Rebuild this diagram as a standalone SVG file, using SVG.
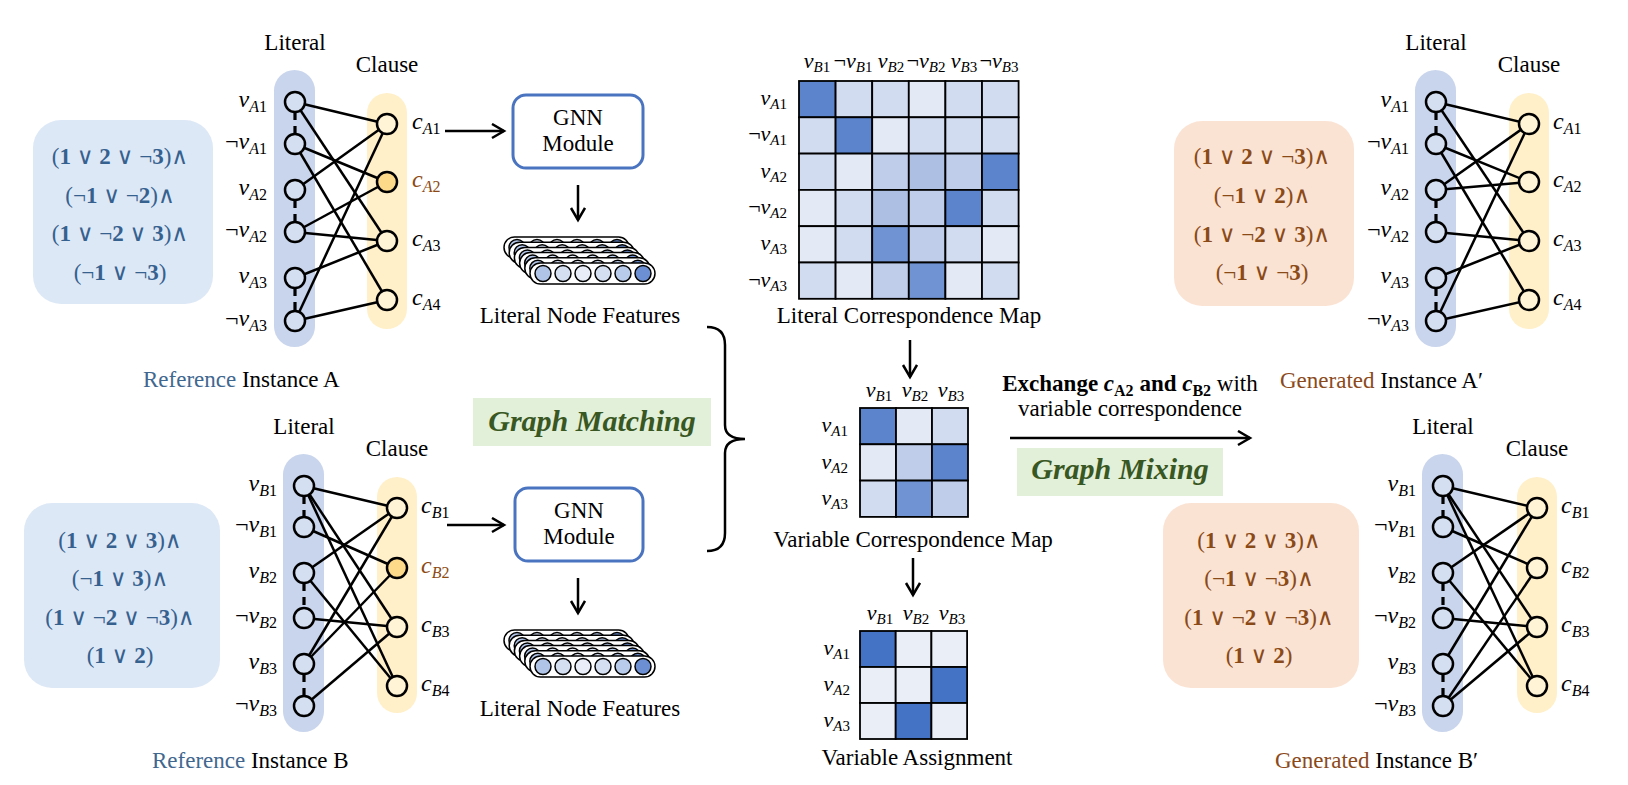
<svg xmlns="http://www.w3.org/2000/svg" xmlns:xlink="http://www.w3.org/1999/xlink" width="1628" height="785" viewBox="0 0 1628 785" font-family="'Liberation Serif', 'DejaVu Serif', serif">
<style>
text, tspan { font-family: 'Liberation Serif', 'DejaVu Serif', serif; }
text { fill: #000; }
.cap { font-size: 23px; }
.ml { font-size: 24px; }
.mm { font-size: 22px; }
.sub { font-size: 16px; }
.subm { font-size: 15px; }
.it { font-style: italic; }
.b { font-weight: bold; }
.edge { stroke: #000; stroke-width: 2.5; fill: none; }
.dash { stroke: #000; stroke-width: 3.2; stroke-dasharray: 8 6; fill: none; }
.lit { fill: #d5dff2; stroke: #000; stroke-width: 2.5; }
.cl { fill: #fff5d6; stroke: #000; stroke-width: 2.5; }
.clh { fill: #fdd98a; stroke: #000; stroke-width: 2.5; }
.lband { fill: #c9d5ec; }
.cband { fill: #fff0c9; }
.fbox { fill: #dde8f6; }
.pbox { fill: #fbe3d4; }
.ftxt { font-size: 23px; fill: #36618f; }
.ptxt { font-size: 23px; fill: #8a4a17; }
.ref { fill: #41678f; }
.gen { fill: #8b4a1c; }
.brown { fill: #8c4a12; }
.gnn { fill: #fff; stroke: #4a74c0; stroke-width: 3; }
.green { fill: #e2efd9; }
.gtxt { font-size: 30px; font-weight: bold; font-style: italic; fill: #385723; }
.arrow { stroke: #000; stroke-width: 2.5; fill: none; marker-end: url(#ah); }
.cell { stroke: #000; stroke-width: 1.8; }
.d1 { fill: #5b84cc; } .d2 { fill: #6f93d3; } .m1 { fill: #adc0e4; } .m2 { fill: #bfcdea; }
.l1 { fill: #d2dcf0; } .l2 { fill: #e3e9f5; } .vd { fill: #4472c4; } .vl { fill: #e9eef7; }
.pill { fill: #fff; stroke: #000; stroke-width: 1.5; }
.fc { stroke: #000; stroke-width: 1.5; }
</style>
<defs>
<marker id="ah" markerUnits="userSpaceOnUse" markerWidth="16" markerHeight="18" refX="13" refY="8" orient="auto">
<path d="M1,1 L13,8 L1,15" fill="none" stroke="#000" stroke-width="2.5"/>
</marker>
<g id="layer">
<rect class="pill" x="0" y="0" width="125" height="21" rx="10.5"/>
<circle class="fc" cx="13" cy="10.5" r="8" fill="#b0c4e8"/>
<circle class="fc" cx="33" cy="10.5" r="8" fill="#d5dff2"/>
<circle class="fc" cx="53" cy="10.5" r="8" fill="#e8edf8"/>
<circle class="fc" cx="73" cy="10.5" r="8" fill="#d5dff2"/>
<circle class="fc" cx="93" cy="10.5" r="8" fill="#b8cbea"/>
<circle class="fc" cx="113" cy="10.5" r="8" fill="#6b8fd2"/>
</g>
<g id="stack">
<use xlink:href="#layer" href="#layer" x="-26" y="-26"/>
<use xlink:href="#layer" href="#layer" x="-20.8" y="-20.8"/>
<use xlink:href="#layer" href="#layer" x="-15.6" y="-15.6"/>
<use xlink:href="#layer" href="#layer" x="-10.4" y="-10.4"/>
<use xlink:href="#layer" href="#layer" x="-5.2" y="-5.2"/>
<use xlink:href="#layer" href="#layer" x="0" y="0"/>
</g>
</defs>
<rect width="1628" height="785" fill="#fff"/>

<!-- ===== Reference Instance A ===== -->
<g id="formulaA">
<rect class="fbox" x="33" y="120" width="180" height="184" rx="28"/>
<text class="ftxt" x="120" y="164" text-anchor="middle">(<tspan class="b">1</tspan> ∨ <tspan class="b">2</tspan> ∨ ¬<tspan class="b">3</tspan>)∧</text>
<text class="ftxt" x="120" y="203" text-anchor="middle">(¬<tspan class="b">1</tspan> ∨ ¬<tspan class="b">2</tspan>)∧</text>
<text class="ftxt" x="120" y="241" text-anchor="middle">(<tspan class="b">1</tspan> ∨ ¬<tspan class="b">2</tspan> ∨ <tspan class="b">3</tspan>)∧</text>
<text class="ftxt" x="120" y="280" text-anchor="middle">(¬<tspan class="b">1</tspan> ∨ ¬<tspan class="b">3</tspan>)</text>
</g>
<g id="graphA">
<rect class="lband" x="274" y="70" width="41" height="277" rx="20.5"/>
<rect class="cband" x="367" y="93" width="40" height="236" rx="20"/>
<text class="cap" x="295" y="50" text-anchor="middle">Literal</text>
<text class="cap" x="387" y="72" text-anchor="middle">Clause</text>
<g id="edgesA">
<line class="edge" x1="295" y1="102" x2="387" y2="124"/>
<line class="edge" x1="295" y1="190" x2="387" y2="124"/>
<line class="edge" x1="295" y1="321" x2="387" y2="124"/>
<line class="edge" x1="295" y1="144" x2="387" y2="182"/>
<line class="edge" x1="295" y1="232" x2="387" y2="182"/>
<line class="edge" x1="295" y1="102" x2="387" y2="241"/>
<line class="edge" x1="295" y1="232" x2="387" y2="241"/>
<line class="edge" x1="295" y1="278" x2="387" y2="241"/>
<line class="edge" x1="295" y1="144" x2="387" y2="300"/>
<line class="edge" x1="295" y1="321" x2="387" y2="300"/>
<line class="dash" x1="295" y1="112" x2="295" y2="134"/>
<line class="dash" x1="295" y1="200" x2="295" y2="222"/>
<line class="dash" x1="295" y1="288" x2="295" y2="311"/>
</g>
<circle class="lit" cx="295" cy="102" r="10"/>
<circle class="lit" cx="295" cy="144" r="10"/>
<circle class="lit" cx="295" cy="190" r="10"/>
<circle class="lit" cx="295" cy="232" r="10"/>
<circle class="lit" cx="295" cy="278" r="10"/>
<circle class="lit" cx="295" cy="321" r="10"/>
<circle class="cl" cx="387" cy="124" r="10"/>
<circle class="clh" cx="387" cy="182" r="10"/>
<circle class="cl" cx="387" cy="241" r="10"/>
<circle class="cl" cx="387" cy="300" r="10"/>
<text class="ml" x="267" y="107" text-anchor="end"><tspan class="it">v</tspan><tspan class="sub" dy="5"><tspan class="it">A</tspan>1</tspan></text>
<text class="ml" x="267" y="149" text-anchor="end">¬<tspan class="it">v</tspan><tspan class="sub" dy="5"><tspan class="it">A</tspan>1</tspan></text>
<text class="ml" x="267" y="195" text-anchor="end"><tspan class="it">v</tspan><tspan class="sub" dy="5"><tspan class="it">A</tspan>2</tspan></text>
<text class="ml" x="267" y="237" text-anchor="end">¬<tspan class="it">v</tspan><tspan class="sub" dy="5"><tspan class="it">A</tspan>2</tspan></text>
<text class="ml" x="267" y="283" text-anchor="end"><tspan class="it">v</tspan><tspan class="sub" dy="5"><tspan class="it">A</tspan>3</tspan></text>
<text class="ml" x="267" y="326" text-anchor="end">¬<tspan class="it">v</tspan><tspan class="sub" dy="5"><tspan class="it">A</tspan>3</tspan></text>
<text class="ml" x="412" y="129"><tspan class="it">c</tspan><tspan class="sub" dy="5"><tspan class="it">A</tspan>1</tspan></text>
<text class="ml brown" x="412" y="187"><tspan class="it brown">c</tspan><tspan class="sub brown" dy="5"><tspan class="it brown">A</tspan>2</tspan></text>
<text class="ml" x="412" y="246"><tspan class="it">c</tspan><tspan class="sub" dy="5"><tspan class="it">A</tspan>3</tspan></text>
<text class="ml" x="412" y="305"><tspan class="it">c</tspan><tspan class="sub" dy="5"><tspan class="it">A</tspan>4</tspan></text>
<text class="cap" x="143" y="387"><tspan class="ref">Reference</tspan> Instance A</text>
</g>

<!-- ===== Reference Instance B ===== -->
<g id="formulaB">
<rect class="fbox" x="24" y="503" width="196" height="185" rx="28"/>
<text class="ftxt" x="120" y="548" text-anchor="middle">(<tspan class="b">1</tspan> ∨ <tspan class="b">2</tspan> ∨ <tspan class="b">3</tspan>)∧</text>
<text class="ftxt" x="120" y="586" text-anchor="middle">(¬<tspan class="b">1</tspan> ∨ <tspan class="b">3</tspan>)∧</text>
<text class="ftxt" x="120" y="625" text-anchor="middle">(<tspan class="b">1</tspan> ∨ ¬<tspan class="b">2</tspan> ∨ ¬<tspan class="b">3</tspan>)∧</text>
<text class="ftxt" x="120" y="663" text-anchor="middle">(<tspan class="b">1</tspan> ∨ <tspan class="b">2</tspan>)</text>
</g>
<g id="graphB">
<rect class="lband" x="283" y="454" width="41" height="278" rx="20.5"/>
<rect class="cband" x="377" y="477" width="40" height="236" rx="20"/>
<text class="cap" x="304" y="434" text-anchor="middle">Literal</text>
<text class="cap" x="397" y="456" text-anchor="middle">Clause</text>
<g id="edgesB">
<line class="edge" x1="304" y1="486" x2="397" y2="508"/>
<line class="edge" x1="304" y1="573" x2="397" y2="508"/>
<line class="edge" x1="304" y1="664" x2="397" y2="508"/>
<line class="edge" x1="304" y1="527" x2="397" y2="568"/>
<line class="edge" x1="304" y1="664" x2="397" y2="568"/>
<line class="edge" x1="304" y1="486" x2="397" y2="627"/>
<line class="edge" x1="304" y1="618" x2="397" y2="627"/>
<line class="edge" x1="304" y1="706" x2="397" y2="627"/>
<line class="edge" x1="304" y1="486" x2="397" y2="686"/>
<line class="edge" x1="304" y1="573" x2="397" y2="686"/>
<line class="dash" x1="304" y1="496" x2="304" y2="517"/>
<line class="dash" x1="304" y1="583" x2="304" y2="608"/>
<line class="dash" x1="304" y1="674" x2="304" y2="696"/>
</g>
<circle class="lit" cx="304" cy="486" r="10"/>
<circle class="lit" cx="304" cy="527" r="10"/>
<circle class="lit" cx="304" cy="573" r="10"/>
<circle class="lit" cx="304" cy="618" r="10"/>
<circle class="lit" cx="304" cy="664" r="10"/>
<circle class="lit" cx="304" cy="706" r="10"/>
<circle class="cl" cx="397" cy="508" r="10"/>
<circle class="clh" cx="397" cy="568" r="10"/>
<circle class="cl" cx="397" cy="627" r="10"/>
<circle class="cl" cx="397" cy="686" r="10"/>
<text class="ml" x="277" y="491" text-anchor="end"><tspan class="it">v</tspan><tspan class="sub" dy="5"><tspan class="it">B</tspan>1</tspan></text>
<text class="ml" x="277" y="532" text-anchor="end">¬<tspan class="it">v</tspan><tspan class="sub" dy="5"><tspan class="it">B</tspan>1</tspan></text>
<text class="ml" x="277" y="578" text-anchor="end"><tspan class="it">v</tspan><tspan class="sub" dy="5"><tspan class="it">B</tspan>2</tspan></text>
<text class="ml" x="277" y="623" text-anchor="end">¬<tspan class="it">v</tspan><tspan class="sub" dy="5"><tspan class="it">B</tspan>2</tspan></text>
<text class="ml" x="277" y="669" text-anchor="end"><tspan class="it">v</tspan><tspan class="sub" dy="5"><tspan class="it">B</tspan>3</tspan></text>
<text class="ml" x="277" y="711" text-anchor="end">¬<tspan class="it">v</tspan><tspan class="sub" dy="5"><tspan class="it">B</tspan>3</tspan></text>
<text class="ml" x="421" y="513"><tspan class="it">c</tspan><tspan class="sub" dy="5"><tspan class="it">B</tspan>1</tspan></text>
<text class="ml brown" x="421" y="573"><tspan class="it brown">c</tspan><tspan class="sub brown" dy="5"><tspan class="it brown">B</tspan>2</tspan></text>
<text class="ml" x="421" y="632"><tspan class="it">c</tspan><tspan class="sub" dy="5"><tspan class="it">B</tspan>3</tspan></text>
<text class="ml" x="421" y="691"><tspan class="it">c</tspan><tspan class="sub" dy="5"><tspan class="it">B</tspan>4</tspan></text>
<text class="cap" x="152" y="768"><tspan class="ref">Reference</tspan> Instance B</text>
</g>

<!-- ===== GNN modules ===== -->
<g id="gnnA">
<rect class="gnn" x="513" y="95" width="130" height="73" rx="13"/>
<text class="cap" x="578" y="125" text-anchor="middle">GNN</text>
<text class="cap" x="578" y="151" text-anchor="middle">Module</text>
</g>
<g id="featuresA">
<use xlink:href="#stack" href="#stack" x="530" y="263"/>
<text class="cap" x="580" y="323" text-anchor="middle">Literal Node Features</text>
</g>
<g id="gnnB">
<rect class="gnn" x="515" y="488" width="128" height="73" rx="13"/>
<text class="cap" x="579" y="518" text-anchor="middle">GNN</text>
<text class="cap" x="579" y="544" text-anchor="middle">Module</text>
</g>
<g id="featuresB">
<use xlink:href="#stack" href="#stack" x="530" y="656"/>
<text class="cap" x="580" y="716" text-anchor="middle">Literal Node Features</text>
</g>
<g id="graphMatching">
<rect class="green" x="473" y="398" width="238" height="48"/>
<text class="gtxt" x="592" y="431" text-anchor="middle">Graph Matching</text>
</g>

<!-- ===== Literal Correspondence Map ===== -->
<g id="literalMap">
<g>
<rect class="cell d1" x="799" y="81" width="36.6" height="36.3"/>
<rect class="cell l1" x="835.6" y="81" width="36.6" height="36.3"/>
<rect class="cell l1" x="872.2" y="81" width="36.6" height="36.3"/>
<rect class="cell l2" x="908.8" y="81" width="36.6" height="36.3"/>
<rect class="cell l1" x="945.4" y="81" width="36.6" height="36.3"/>
<rect class="cell l1" x="982" y="81" width="36.6" height="36.3"/>

<rect class="cell l1" x="799" y="117.3" width="36.6" height="36.3"/>
<rect class="cell d1" x="835.6" y="117.3" width="36.6" height="36.3"/>
<rect class="cell l2" x="872.2" y="117.3" width="36.6" height="36.3"/>
<rect class="cell l1" x="908.8" y="117.3" width="36.6" height="36.3"/>
<rect class="cell l1" x="945.4" y="117.3" width="36.6" height="36.3"/>
<rect class="cell l1" x="982" y="117.3" width="36.6" height="36.3"/>

<rect class="cell l1" x="799" y="153.6" width="36.6" height="36.3"/>
<rect class="cell l2" x="835.6" y="153.6" width="36.6" height="36.3"/>
<rect class="cell m2" x="872.2" y="153.6" width="36.6" height="36.3"/>
<rect class="cell m1" x="908.8" y="153.6" width="36.6" height="36.3"/>
<rect class="cell m2" x="945.4" y="153.6" width="36.6" height="36.3"/>
<rect class="cell d1" x="982" y="153.6" width="36.6" height="36.3"/>

<rect class="cell l2" x="799" y="189.9" width="36.6" height="36.3"/>
<rect class="cell l1" x="835.6" y="189.9" width="36.6" height="36.3"/>
<rect class="cell m1" x="872.2" y="189.9" width="36.6" height="36.3"/>
<rect class="cell m2" x="908.8" y="189.9" width="36.6" height="36.3"/>
<rect class="cell d1" x="945.4" y="189.9" width="36.6" height="36.3"/>
<rect class="cell l1" x="982" y="189.9" width="36.6" height="36.3"/>

<rect class="cell l2" x="799" y="226.2" width="36.6" height="36.3"/>
<rect class="cell l1" x="835.6" y="226.2" width="36.6" height="36.3"/>
<rect class="cell d2" x="872.2" y="226.2" width="36.6" height="36.3"/>
<rect class="cell m2" x="908.8" y="226.2" width="36.6" height="36.3"/>
<rect class="cell l1" x="945.4" y="226.2" width="36.6" height="36.3"/>
<rect class="cell l2" x="982" y="226.2" width="36.6" height="36.3"/>

<rect class="cell l1" x="799" y="262.5" width="36.6" height="36.3"/>
<rect class="cell l2" x="835.6" y="262.5" width="36.6" height="36.3"/>
<rect class="cell m2" x="872.2" y="262.5" width="36.6" height="36.3"/>
<rect class="cell d2" x="908.8" y="262.5" width="36.6" height="36.3"/>
<rect class="cell l2" x="945.4" y="262.5" width="36.6" height="36.3"/>
<rect class="cell l1" x="982" y="262.5" width="36.6" height="36.3"/>
</g>
<text class="mm" x="817" y="68" text-anchor="middle"><tspan class="it">v</tspan><tspan class="subm" dy="4"><tspan class="it">B</tspan>1</tspan></text>
<text class="mm" x="853" y="68" text-anchor="middle">¬<tspan class="it">v</tspan><tspan class="subm" dy="4"><tspan class="it">B</tspan>1</tspan></text>
<text class="mm" x="891" y="68" text-anchor="middle"><tspan class="it">v</tspan><tspan class="subm" dy="4"><tspan class="it">B</tspan>2</tspan></text>
<text class="mm" x="926" y="68" text-anchor="middle">¬<tspan class="it">v</tspan><tspan class="subm" dy="4"><tspan class="it">B</tspan>2</tspan></text>
<text class="mm" x="964" y="68" text-anchor="middle"><tspan class="it">v</tspan><tspan class="subm" dy="4"><tspan class="it">B</tspan>3</tspan></text>
<text class="mm" x="999" y="68" text-anchor="middle">¬<tspan class="it">v</tspan><tspan class="subm" dy="4"><tspan class="it">B</tspan>3</tspan></text>
<text class="mm" x="787" y="105" text-anchor="end"><tspan class="it">v</tspan><tspan class="subm" dy="4"><tspan class="it">A</tspan>1</tspan></text>
<text class="mm" x="787" y="141" text-anchor="end">¬<tspan class="it">v</tspan><tspan class="subm" dy="4"><tspan class="it">A</tspan>1</tspan></text>
<text class="mm" x="787" y="178" text-anchor="end"><tspan class="it">v</tspan><tspan class="subm" dy="4"><tspan class="it">A</tspan>2</tspan></text>
<text class="mm" x="787" y="214" text-anchor="end">¬<tspan class="it">v</tspan><tspan class="subm" dy="4"><tspan class="it">A</tspan>2</tspan></text>
<text class="mm" x="787" y="250" text-anchor="end"><tspan class="it">v</tspan><tspan class="subm" dy="4"><tspan class="it">A</tspan>3</tspan></text>
<text class="mm" x="787" y="287" text-anchor="end">¬<tspan class="it">v</tspan><tspan class="subm" dy="4"><tspan class="it">A</tspan>3</tspan></text>
<text class="cap" x="909" y="323" text-anchor="middle">Literal Correspondence Map</text>
</g>

<!-- ===== Variable Correspondence Map ===== -->
<g id="variableMap">
<rect class="cell d1" x="860" y="408" width="36" height="36.3"/>
<rect class="cell l2" x="896" y="408" width="36" height="36.3"/>
<rect class="cell l1" x="932" y="408" width="36" height="36.3"/>
<rect class="cell l2" x="860" y="444.3" width="36" height="36.3"/>
<rect class="cell m2" x="896" y="444.3" width="36" height="36.3"/>
<rect class="cell d1" x="932" y="444.3" width="36" height="36.3"/>
<rect class="cell l1" x="860" y="480.6" width="36" height="36.3"/>
<rect class="cell d2" x="896" y="480.6" width="36" height="36.3"/>
<rect class="cell m2" x="932" y="480.6" width="36" height="36.3"/>
<text class="mm" x="879" y="397" text-anchor="middle"><tspan class="it">v</tspan><tspan class="subm" dy="4"><tspan class="it">B</tspan>1</tspan></text>
<text class="mm" x="915" y="397" text-anchor="middle"><tspan class="it">v</tspan><tspan class="subm" dy="4"><tspan class="it">B</tspan>2</tspan></text>
<text class="mm" x="951" y="397" text-anchor="middle"><tspan class="it">v</tspan><tspan class="subm" dy="4"><tspan class="it">B</tspan>3</tspan></text>
<text class="mm" x="848" y="432" text-anchor="end"><tspan class="it">v</tspan><tspan class="subm" dy="4"><tspan class="it">A</tspan>1</tspan></text>
<text class="mm" x="848" y="469" text-anchor="end"><tspan class="it">v</tspan><tspan class="subm" dy="4"><tspan class="it">A</tspan>2</tspan></text>
<text class="mm" x="848" y="505" text-anchor="end"><tspan class="it">v</tspan><tspan class="subm" dy="4"><tspan class="it">A</tspan>3</tspan></text>
<text class="cap" x="913" y="547" text-anchor="middle">Variable Correspondence Map</text>
</g>

<!-- ===== Variable Assignment ===== -->
<g id="variableAssignment">
<rect class="cell vd" x="860" y="631" width="35.7" height="36"/>
<rect class="cell vl" x="895.7" y="631" width="35.7" height="36"/>
<rect class="cell vl" x="931.4" y="631" width="35.7" height="36"/>
<rect class="cell vl" x="860" y="667" width="35.7" height="36"/>
<rect class="cell vl" x="895.7" y="667" width="35.7" height="36"/>
<rect class="cell vd" x="931.4" y="667" width="35.7" height="36"/>
<rect class="cell vl" x="860" y="703" width="35.7" height="36"/>
<rect class="cell vd" x="895.7" y="703" width="35.7" height="36"/>
<rect class="cell vl" x="931.4" y="703" width="35.7" height="36"/>
<text class="mm" x="880" y="620" text-anchor="middle"><tspan class="it">v</tspan><tspan class="subm" dy="4"><tspan class="it">B</tspan>1</tspan></text>
<text class="mm" x="916" y="620" text-anchor="middle"><tspan class="it">v</tspan><tspan class="subm" dy="4"><tspan class="it">B</tspan>2</tspan></text>
<text class="mm" x="952" y="620" text-anchor="middle"><tspan class="it">v</tspan><tspan class="subm" dy="4"><tspan class="it">B</tspan>3</tspan></text>
<text class="mm" x="850" y="655" text-anchor="end"><tspan class="it">v</tspan><tspan class="subm" dy="4"><tspan class="it">A</tspan>1</tspan></text>
<text class="mm" x="850" y="691" text-anchor="end"><tspan class="it">v</tspan><tspan class="subm" dy="4"><tspan class="it">A</tspan>2</tspan></text>
<text class="mm" x="850" y="727" text-anchor="end"><tspan class="it">v</tspan><tspan class="subm" dy="4"><tspan class="it">A</tspan>3</tspan></text>
<text class="cap" x="917" y="765" text-anchor="middle">Variable Assignment</text>
</g>

<!-- ===== Exchange / Graph Mixing ===== -->
<g id="exchangeLabel">
<text class="cap" x="1130" y="391" text-anchor="middle"><tspan class="b">Exchange </tspan><tspan class="b it">c</tspan><tspan class="b sub" dy="5">A2</tspan><tspan class="b" dy="-5"> and </tspan><tspan class="b it">c</tspan><tspan class="b sub" dy="5">B2</tspan><tspan dy="-5"> with</tspan></text>
<text class="cap" x="1130" y="416" text-anchor="middle">variable correspondence</text>
</g>
<g id="graphMixing">
<rect class="green" x="1017" y="448" width="206" height="48"/>
<text class="gtxt" x="1120" y="479" text-anchor="middle">Graph Mixing</text>
</g>

<!-- ===== Generated Instance A' ===== -->
<g id="formulaA2">
<rect class="pbox" x="1174" y="121" width="180" height="185" rx="28"/>
<text class="ptxt" x="1262" y="164" text-anchor="middle">(<tspan class="b">1</tspan> ∨ <tspan class="b">2</tspan> ∨ ¬<tspan class="b">3</tspan>)∧</text>
<text class="ptxt" x="1262" y="203" text-anchor="middle">(¬<tspan class="b">1</tspan> ∨ <tspan class="b">2</tspan>)∧</text>
<text class="ptxt" x="1262" y="242" text-anchor="middle">(<tspan class="b">1</tspan> ∨ ¬<tspan class="b">2</tspan> ∨ <tspan class="b">3</tspan>)∧</text>
<text class="ptxt" x="1262" y="280" text-anchor="middle">(¬<tspan class="b">1</tspan> ∨ ¬<tspan class="b">3</tspan>)</text>
</g>
<g id="graphA2">
<rect class="lband" x="1415" y="70" width="41" height="277" rx="20.5"/>
<rect class="cband" x="1509" y="93" width="40" height="236" rx="20"/>
<text class="cap" x="1436" y="50" text-anchor="middle">Literal</text>
<text class="cap" x="1529" y="72" text-anchor="middle">Clause</text>
<g id="edgesA2">
<line class="edge" x1="1436" y1="102" x2="1529" y2="124"/>
<line class="edge" x1="1436" y1="190" x2="1529" y2="124"/>
<line class="edge" x1="1436" y1="321" x2="1529" y2="124"/>
<line class="edge" x1="1436" y1="144" x2="1529" y2="182"/>
<line class="edge" x1="1436" y1="190" x2="1529" y2="182"/>
<line class="edge" x1="1436" y1="102" x2="1529" y2="241"/>
<line class="edge" x1="1436" y1="232" x2="1529" y2="241"/>
<line class="edge" x1="1436" y1="278" x2="1529" y2="241"/>
<line class="edge" x1="1436" y1="144" x2="1529" y2="300"/>
<line class="edge" x1="1436" y1="321" x2="1529" y2="300"/>
<line class="dash" x1="1436" y1="112" x2="1436" y2="134"/>
<line class="dash" x1="1436" y1="200" x2="1436" y2="222"/>
<line class="dash" x1="1436" y1="288" x2="1436" y2="311"/>
</g>
<circle class="lit" cx="1436" cy="102" r="10"/>
<circle class="lit" cx="1436" cy="144" r="10"/>
<circle class="lit" cx="1436" cy="190" r="10"/>
<circle class="lit" cx="1436" cy="232" r="10"/>
<circle class="lit" cx="1436" cy="278" r="10"/>
<circle class="lit" cx="1436" cy="321" r="10"/>
<circle class="cl" cx="1529" cy="124" r="10"/>
<circle class="cl" cx="1529" cy="182" r="10"/>
<circle class="cl" cx="1529" cy="241" r="10"/>
<circle class="cl" cx="1529" cy="300" r="10"/>
<text class="ml" x="1409" y="107" text-anchor="end"><tspan class="it">v</tspan><tspan class="sub" dy="5"><tspan class="it">A</tspan>1</tspan></text>
<text class="ml" x="1409" y="149" text-anchor="end">¬<tspan class="it">v</tspan><tspan class="sub" dy="5"><tspan class="it">A</tspan>1</tspan></text>
<text class="ml" x="1409" y="195" text-anchor="end"><tspan class="it">v</tspan><tspan class="sub" dy="5"><tspan class="it">A</tspan>2</tspan></text>
<text class="ml" x="1409" y="237" text-anchor="end">¬<tspan class="it">v</tspan><tspan class="sub" dy="5"><tspan class="it">A</tspan>2</tspan></text>
<text class="ml" x="1409" y="283" text-anchor="end"><tspan class="it">v</tspan><tspan class="sub" dy="5"><tspan class="it">A</tspan>3</tspan></text>
<text class="ml" x="1409" y="326" text-anchor="end">¬<tspan class="it">v</tspan><tspan class="sub" dy="5"><tspan class="it">A</tspan>3</tspan></text>
<text class="ml" x="1553" y="129"><tspan class="it">c</tspan><tspan class="sub" dy="5"><tspan class="it">A</tspan>1</tspan></text>
<text class="ml" x="1553" y="187"><tspan class="it">c</tspan><tspan class="sub" dy="5"><tspan class="it">A</tspan>2</tspan></text>
<text class="ml" x="1553" y="246"><tspan class="it">c</tspan><tspan class="sub" dy="5"><tspan class="it">A</tspan>3</tspan></text>
<text class="ml" x="1553" y="305"><tspan class="it">c</tspan><tspan class="sub" dy="5"><tspan class="it">A</tspan>4</tspan></text>
<text class="cap" x="1280" y="388"><tspan class="gen">Generated</tspan> Instance A′</text>
</g>

<!-- ===== Generated Instance B' ===== -->
<g id="formulaB2">
<rect class="pbox" x="1163" y="503" width="196" height="185" rx="28"/>
<text class="ptxt" x="1259" y="548" text-anchor="middle">(<tspan class="b">1</tspan> ∨ <tspan class="b">2</tspan> ∨ <tspan class="b">3</tspan>)∧</text>
<text class="ptxt" x="1259" y="586" text-anchor="middle">(¬<tspan class="b">1</tspan> ∨ ¬<tspan class="b">3</tspan>)∧</text>
<text class="ptxt" x="1259" y="625" text-anchor="middle">(<tspan class="b">1</tspan> ∨ ¬<tspan class="b">2</tspan> ∨ ¬<tspan class="b">3</tspan>)∧</text>
<text class="ptxt" x="1259" y="663" text-anchor="middle">(<tspan class="b">1</tspan> ∨ <tspan class="b">2</tspan>)</text>
</g>
<g id="graphB2">
<rect class="lband" x="1422" y="454" width="41" height="278" rx="20.5"/>
<rect class="cband" x="1517" y="477" width="40" height="236" rx="20"/>
<text class="cap" x="1443" y="434" text-anchor="middle">Literal</text>
<text class="cap" x="1537" y="456" text-anchor="middle">Clause</text>
<g id="edgesB2">
<line class="edge" x1="1443" y1="486" x2="1537" y2="508"/>
<line class="edge" x1="1443" y1="573" x2="1537" y2="508"/>
<line class="edge" x1="1443" y1="664" x2="1537" y2="508"/>
<line class="edge" x1="1443" y1="527" x2="1537" y2="568"/>
<line class="edge" x1="1443" y1="706" x2="1537" y2="568"/>
<line class="edge" x1="1443" y1="486" x2="1537" y2="627"/>
<line class="edge" x1="1443" y1="618" x2="1537" y2="627"/>
<line class="edge" x1="1443" y1="706" x2="1537" y2="627"/>
<line class="edge" x1="1443" y1="486" x2="1537" y2="686"/>
<line class="edge" x1="1443" y1="573" x2="1537" y2="686"/>
<line class="dash" x1="1443" y1="496" x2="1443" y2="517"/>
<line class="dash" x1="1443" y1="583" x2="1443" y2="608"/>
<line class="dash" x1="1443" y1="674" x2="1443" y2="696"/>
</g>
<circle class="lit" cx="1443" cy="486" r="10"/>
<circle class="lit" cx="1443" cy="527" r="10"/>
<circle class="lit" cx="1443" cy="573" r="10"/>
<circle class="lit" cx="1443" cy="618" r="10"/>
<circle class="lit" cx="1443" cy="664" r="10"/>
<circle class="lit" cx="1443" cy="706" r="10"/>
<circle class="cl" cx="1537" cy="508" r="10"/>
<circle class="cl" cx="1537" cy="568" r="10"/>
<circle class="cl" cx="1537" cy="627" r="10"/>
<circle class="cl" cx="1537" cy="686" r="10"/>
<text class="ml" x="1416" y="491" text-anchor="end"><tspan class="it">v</tspan><tspan class="sub" dy="5"><tspan class="it">B</tspan>1</tspan></text>
<text class="ml" x="1416" y="532" text-anchor="end">¬<tspan class="it">v</tspan><tspan class="sub" dy="5"><tspan class="it">B</tspan>1</tspan></text>
<text class="ml" x="1416" y="578" text-anchor="end"><tspan class="it">v</tspan><tspan class="sub" dy="5"><tspan class="it">B</tspan>2</tspan></text>
<text class="ml" x="1416" y="623" text-anchor="end">¬<tspan class="it">v</tspan><tspan class="sub" dy="5"><tspan class="it">B</tspan>2</tspan></text>
<text class="ml" x="1416" y="669" text-anchor="end"><tspan class="it">v</tspan><tspan class="sub" dy="5"><tspan class="it">B</tspan>3</tspan></text>
<text class="ml" x="1416" y="711" text-anchor="end">¬<tspan class="it">v</tspan><tspan class="sub" dy="5"><tspan class="it">B</tspan>3</tspan></text>
<text class="ml" x="1561" y="513"><tspan class="it">c</tspan><tspan class="sub" dy="5"><tspan class="it">B</tspan>1</tspan></text>
<text class="ml" x="1561" y="573"><tspan class="it">c</tspan><tspan class="sub" dy="5"><tspan class="it">B</tspan>2</tspan></text>
<text class="ml" x="1561" y="632"><tspan class="it">c</tspan><tspan class="sub" dy="5"><tspan class="it">B</tspan>3</tspan></text>
<text class="ml" x="1561" y="691"><tspan class="it">c</tspan><tspan class="sub" dy="5"><tspan class="it">B</tspan>4</tspan></text>
<text class="cap" x="1275" y="768"><tspan class="gen">Generated</tspan> Instance B′</text>
</g>

<!-- ===== Connectors ===== -->
<g id="connectors">
<line class="arrow" x1="445" y1="131" x2="504" y2="131"/>
<line class="arrow" x1="578" y1="185" x2="578" y2="220"/>
<line class="arrow" x1="447" y1="525" x2="504" y2="525"/>
<line class="arrow" x1="578" y1="578" x2="578" y2="613"/>
<path d="M707,327 Q725,327 725,345 L725,425 Q725,439 745,439 Q725,439 725,453 L725,533 Q725,551 707,551" fill="none" stroke="#000" stroke-width="2.5"/>
<line class="arrow" x1="910" y1="340" x2="910" y2="377"/>
<line class="arrow" x1="913" y1="558" x2="913" y2="595"/>
<line class="arrow" x1="1010" y1="438" x2="1250" y2="438"/>
</g>
</svg>
